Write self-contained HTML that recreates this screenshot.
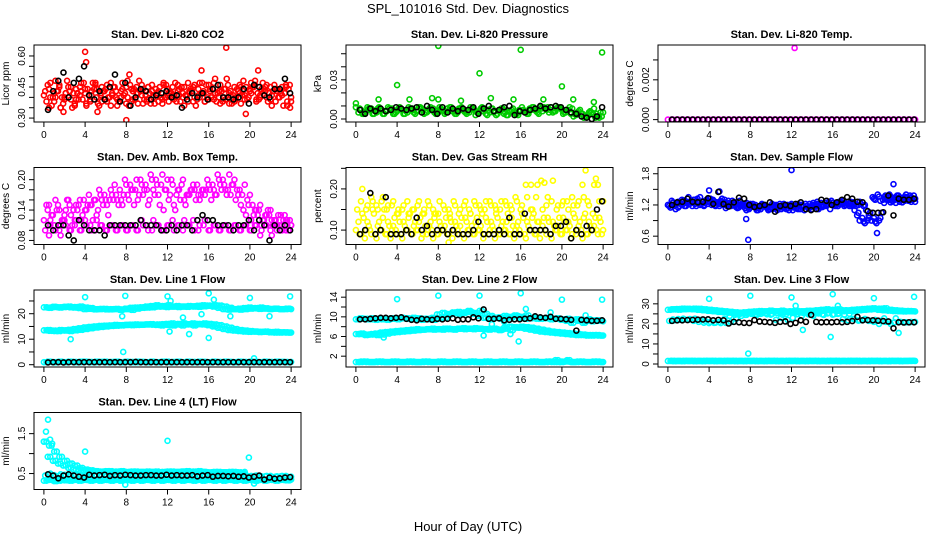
<!DOCTYPE html>
<html><head><meta charset="utf-8">
<style>
html,body{margin:0;padding:0;background:#fff;}
svg{display:block;font-family:"Liberation Sans",Arial,sans-serif;}
</style></head>
<body>
<svg id="chart" width="936" height="540" viewBox="0 0 936 540">
<text x="468" y="13" text-anchor="middle" font-size="13">SPL_101016  Std. Dev. Diagnostics</text>
<text x="468" y="531" text-anchor="middle" font-size="13">Hour of Day (UTC)</text>
</svg>
<script>
// ===== Data =====
const hourTicks = [0,4,8,12,16,20,24];
// Panel 1: CO2
const co2RedA = [0.41,0.44,0.38,0.46,0.40,0.43,0.37,0.45,0.42,0.39,0.47,0.41,0.44,0.36,0.43,0.40,0.45,0.38,0.42,0.46,0.39,0.43,0.41,0.37,0.44,0.40,0.46,0.42,0.38,0.45,0.41,0.43,0.39,0.47,0.40,0.44,0.42,0.38,0.46,0.41,0.43,0.48,0.40,0.45,0.39,0.44,0.42,0.46,0.40];
const co2RedB = [0.38,0.36,0.43,0.40,0.48,0.35,0.42,0.39,0.44,0.47,0.37,0.43,0.40,0.45,0.38,0.41,0.36,0.44,0.48,0.39,0.42,0.37,0.45,0.40,0.43,0.47,0.38,0.41,0.44,0.36,0.42,0.46,0.40,0.38,0.43,0.49,0.37,0.44,0.41,0.39,0.45,0.42,0.47,0.38,0.43,0.40,0.36,0.44,0.41];
const co2RedC = [0.43,0.47,0.40,0.35,0.42,0.45,0.39,0.43,0.36,0.41,0.44,0.38,0.46,0.42,0.39,0.47,0.40,0.43,0.37,0.44,0.45,0.41,0.38,0.46,0.42,0.39,0.41,0.45,0.43,0.40,0.47,0.38,0.44,0.42,0.46,0.39,0.43,0.40,0.37,0.45,0.42,0.39,0.44,0.46,0.41,0.43,0.45,0.38,0.42];
const co2RedOutHours = [4.0,4.1,17.7,8.0,19.6,8.3,5.2,15.3,1.9,23.9,20.8];
const co2RedOutVals = [0.62,0.57,0.64,0.29,0.32,0.51,0.33,0.53,0.33,0.35,0.53];
const co2Black = [0.34,0.43,0.48,0.52,0.40,0.47,0.49,0.55,0.41,0.39,0.43,0.39,0.45,0.51,0.38,0.47,0.36,0.40,0.44,0.43,0.39,0.41,0.42,0.43,0.40,0.41,0.35,0.39,0.42,0.40,0.42,0.39,0.44,0.46,0.40,0.40,0.39,0.40,0.44,0.37,0.46,0.45,0.41,0.40,0.44,0.44,0.49,0.42];
// Panel 2: Pressure
const presA = [0.009,0.007,0.006,0.008,0.005,0.007,0.006,0.008,0.006,0.007,0.005,0.008,0.006,0.007,0.006,0.008,0.005,0.007,0.006,0.007,0.008,0.006,0.005,0.007,0.006,0.008,0.005,0.006,0.007,0.005,0.006,0.004,0.006,0.005,0.007,0.006,0.008,0.007,0.009,0.008,0.007,0.006,0.008,0.005,0.004,0.003,0.004,0.002,0.005];
const presB = [0.005,0.004,0.008,0.004,0.009,0.004,0.008,0.004,0.009,0.004,0.008,0.004,0.009,0.005,0.009,0.004,0.008,0.005,0.009,0.004,0.009,0.004,0.008,0.005,0.009,0.003,0.008,0.004,0.008,0.003,0.008,0.003,0.007,0.004,0.009,0.004,0.009,0.005,0.006,0.009,0.005,0.009,0.004,0.007,0.002,0.006,0.001,0.005,0.008];
const presOutHours = [8.0,16.0,23.9,12.0,4.0,20.0,0.0,2.2,5.2,7.4,8.0,10.2,13.1,15.3,18.2,21.1,23.1];
const presOutVals = [0.056,0.053,0.051,0.035,0.026,0.025,0.012,0.015,0.015,0.016,0.015,0.014,0.016,0.015,0.015,0.015,0.013];
const presBlack = [0.007,0.004,0.008,0.006,0.008,0.006,0.007,0.009,0.008,0.007,0.008,0.009,0.005,0.010,0.007,0.004,0.009,0.005,0.008,0.006,0.008,0.007,0.009,0.004,0.008,0.010,0.006,0.007,0.009,0.010,0.003,0.006,0.005,0.007,0.008,0.010,0.008,0.009,0.010,0.009,0.007,0.005,0.004,0.002,0.001,0.000,0.002,0.009];
// Panel 3: Li-820 Temp
const tempMag = [0,0,0,0,0,0,0,0,0,0,0,0,0,0,0,0,0,0,0,0,0,0,0,0,0,0,0,0,0,0,0,0,0,0,0,0,0,0,0,0,0,0,0,0,0,0,0,0,0];
const tempOutHours = [12.3];
const tempOutVals = [0.0036];
const tempBlack = [0,0,0,0,0,0,0,0,0,0,0,0,0,0,0,0,0,0,0,0,0,0,0,0,0,0,0,0,0,0,0,0,0,0,0,0,0,0,0,0,0,0,0,0,0,0,0,0];
// Panel 4: Amb box temp
const ambUpper = [0.12,0.15,0.11,0.14,0.13,0.15,0.12,0.16,0.14,0.15,0.16,0.17,0.16,0.18,0.17,0.16,0.19,0.18,0.20,0.19,0.18,0.20,0.19,0.21,0.20,0.19,0.18,0.20,0.17,0.19,0.17,0.18,0.19,0.18,0.20,0.19,0.21,0.20,0.18,0.19,0.17,0.14,0.15,0.13,0.14,0.12,0.13,0.12,0.11];
const ambMid = [0.15,0.13,0.14,0.12,0.16,0.11,0.14,0.13,0.15,0.12,0.14,0.15,0.13,0.16,0.15,0.17,0.16,0.15,0.17,0.18,0.16,0.17,0.15,0.18,0.17,0.14,0.16,0.15,0.18,0.16,0.17,0.18,0.16,0.17,0.18,0.17,0.19,0.18,0.17,0.16,0.15,0.13,0.12,0.14,0.11,0.13,0.12,0.10,0.11];
const ambLower = [0.10,0.11,0.10,0.09,0.11,0.10,0.12,0.10,0.11,0.10,0.12,0.11,0.10,0.11,0.10,0.11,0.10,0.11,0.10,0.11,0.10,0.12,0.11,0.10,0.11,0.10,0.11,0.12,0.11,0.10,0.11,0.12,0.10,0.11,0.10,0.11,0.10,0.11,0.10,0.11,0.10,0.11,0.10,0.11,0.09,0.11,0.10,0.11,0.10];
const ambBlack = [0.11,0.10,0.11,0.11,0.09,0.08,0.12,0.11,0.10,0.10,0.10,0.09,0.11,0.11,0.11,0.11,0.11,0.11,0.12,0.11,0.11,0.11,0.10,0.10,0.11,0.10,0.11,0.11,0.10,0.12,0.13,0.12,0.12,0.11,0.11,0.11,0.10,0.11,0.11,0.12,0.10,0.12,0.11,0.08,0.11,0.10,0.11,0.10];
// Panel 5: Gas stream RH
const rhLow = [0.10,0.09,0.10,0.09,0.08,0.10,0.09,0.10,0.09,0.08,0.10,0.09,0.10,0.09,0.10,0.08,0.09,0.10,0.09,0.10,0.09,0.08,0.10,0.09,0.10,0.09,0.10,0.08,0.09,0.10,0.09,0.10,0.09,0.08,0.10,0.09,0.10,0.09,0.08,0.10,0.09,0.10,0.09,0.10,0.08,0.09,0.10,0.09,0.10];
const rhMid = [0.12,0.13,0.11,0.14,0.12,0.15,0.11,0.13,0.12,0.11,0.14,0.12,0.13,0.11,0.12,0.14,0.11,0.13,0.12,0.11,0.13,0.12,0.11,0.13,0.14,0.12,0.11,0.13,0.12,0.14,0.11,0.12,0.13,0.11,0.14,0.12,0.13,0.12,0.11,0.13,0.12,0.11,0.13,0.12,0.14,0.11,0.13,0.12,0.11];
const rhHigh = [0.15,0.20,0.16,0.17,0.15,0.18,0.16,0.17,0.15,0.16,0.14,0.15,0.17,0.15,0.16,0.14,0.17,0.15,0.14,0.16,0.15,0.17,0.14,0.16,0.15,0.17,0.16,0.15,0.17,0.16,0.15,0.17,0.16,0.18,0.15,0.21,0.15,0.18,0.22,0.16,0.17,0.15,0.16,0.17,0.18,0.16,0.21,0.17,0.14];
const rhOutHours = [22.3,23.3,17.0,18.3,9.0];
const rhOutVals = [0.245,0.225,0.21,0.215,0.07];
const rhBlack = [0.09,0.10,0.19,0.09,0.10,0.18,0.09,0.09,0.09,0.10,0.09,0.13,0.10,0.11,0.09,0.10,0.10,0.09,0.10,0.09,0.09,0.09,0.10,0.12,0.09,0.09,0.09,0.10,0.09,0.13,0.09,0.09,0.14,0.10,0.10,0.10,0.10,0.09,0.11,0.11,0.12,0.08,0.10,0.09,0.11,0.10,0.15,0.17];
// Panel 6: Sample flow
const sfA = [1.20,1.25,1.15,1.28,1.22,1.30,1.25,1.18,1.32,1.27,1.22,1.30,1.24,1.20,1.28,1.22,1.15,1.20,1.12,1.18,1.15,1.20,1.12,1.18,1.22,1.15,1.20,1.18,1.12,1.22,1.16,1.20,1.24,1.18,1.28,1.22,1.25,1.20,1.18,1.00,0.95,0.90,1.35,1.40,1.30,1.35,1.28,1.38,1.32];
const sfB = [1.15,1.12,1.22,1.18,1.25,1.18,1.22,1.30,1.20,1.25,1.32,1.18,1.28,1.14,1.22,1.16,1.22,1.10,1.18,1.10,1.20,1.14,1.22,1.10,1.15,1.20,1.10,1.22,1.18,1.15,1.24,1.12,1.18,1.25,1.20,1.26,1.18,1.22,1.10,0.90,0.85,1.05,1.30,1.28,1.38,1.25,1.35,1.30,1.40];
const sfC = [1.18,1.20,1.18,1.24,1.26,1.22,1.35,1.24,1.26,1.20,1.26,1.24,1.18,1.25,1.18,1.24,1.18,1.14,1.22,1.16,1.12,1.18,1.16,1.14,1.18,1.12,1.16,1.14,1.20,1.18,1.20,1.26,1.20,1.22,1.24,1.18,1.22,1.26,1.20,1.05,0.88,0.95,1.32,1.36,1.24,1.30,1.34,1.26,1.36];
const sfOutHours = [12.0,21.9,7.8,7.6,20.3,4.0,5.0];
const sfOutVals = [1.87,1.60,0.53,0.93,0.66,1.48,1.46];
const sfBlack = [1.20,1.25,1.26,1.32,1.26,1.25,1.26,1.33,1.22,1.45,1.22,1.17,1.25,1.34,1.32,1.20,1.16,1.18,1.20,1.25,1.07,1.18,1.20,1.18,1.22,1.25,1.12,1.10,1.12,1.30,1.28,1.20,1.25,1.30,1.35,1.32,1.26,1.25,1.08,1.05,1.05,1.06,1.38,1.00,1.32,1.30,1.30,1.32];
// Panel 7: Line 1 flow
const l1Upper = [22.5,22.3,22.6,22.4,22.7,22.5,22.6,22.8,22.4,22.2,21.8,21.9,21.7,21.8,21.9,21.7,21.8,21.5,22.0,22.3,22.4,22.5,22.8,23.0,23.3,22.8,22.6,22.8,23.0,22.8,22.7,22.9,23.1,23.3,23.2,22.8,22.3,21.8,21.6,21.8,22.0,22.2,22.4,22.1,21.9,22.0,21.8,22.0,21.8];
const l1Mid = [13.5,13.3,13.2,13.6,13.4,13.2,13.5,13.7,14.0,14.3,14.6,14.8,15.0,15.2,15.3,15.4,15.6,15.5,15.6,15.7,15.8,15.7,15.8,15.9,15.6,15.4,16.0,16.2,15.8,15.4,15.9,16.2,16.0,15.8,15.5,15.0,14.5,14.0,13.6,13.4,13.2,13.0,12.9,13.0,12.8,12.9,12.7,12.6,12.6];
const l1Low = [1.0,1.1,1.0,1.2,1.0,1.1,1.0,1.2,1.1,1.0,1.2,1.1,1.0,1.1,1.2,1.0,1.1,1.0,1.2,1.1,1.0,1.1,1.0,1.2,1.0,1.1,1.2,1.0,1.1,1.0,1.2,1.1,1.0,1.1,1.0,1.2,1.1,1.0,1.1,1.0,1.2,1.1,1.0,1.1,1.0,1.2,1.1,1.0,1.1];
const l1OutHours = [4.0,7.9,12.0,16.0,20.0,23.9,2.6,7.7,7.6,16.0,16.5,13.5,14.1,12.3,18.1,21.9,20.4,12.2,15.3];
const l1OutVals = [26.5,27.0,26.8,28.0,26.2,26.8,10.0,5.0,19.0,10.5,25.5,18.5,12.0,25.0,19.0,19.0,2.5,13.0,19.8];
const l1Black = [0.9,1.0,1.0,0.9,1.0,1.0,1.0,1.0,1.0,1.0,1.0,1.0,1.0,1.0,1.0,1.0,1.0,1.1,1.0,1.0,1.0,1.0,1.0,1.0,1.0,1.0,1.0,1.0,1.0,1.0,1.0,1.0,1.0,1.0,1.0,1.0,1.0,1.0,1.0,1.0,1.0,1.0,1.0,1.0,1.0,1.0,1.0,1.0];
// Panel 8: Line 2 flow
const l2Upper = [9.5,9.6,9.5,9.7,9.6,9.5,9.4,9.6,9.5,9.7,9.6,9.8,9.7,9.6,9.5,9.4,9.6,9.8,10.5,10.8,10.6,10.9,11.0,10.8,11.2,10.6,10.2,9.8,9.6,9.8,9.9,10.2,10.0,10.3,9.8,9.6,9.7,9.8,9.6,9.7,9.5,9.6,9.4,9.2,8.8,9.5,9.3,9.2,9.1];
const l2Mid = [6.5,6.6,6.4,6.5,6.3,6.4,6.6,6.8,6.9,7.0,7.1,7.2,7.3,7.4,7.5,7.4,7.5,7.6,7.5,7.4,7.6,7.5,7.6,7.7,7.6,7.5,7.6,7.5,7.4,7.6,7.3,7.8,8.0,7.9,7.8,7.6,7.4,7.2,7.0,6.9,6.8,6.7,6.6,6.5,6.4,6.3,6.3,6.2,6.2];
const l2Low = [0.8,0.9,0.8,0.8,0.9,0.8,0.8,0.9,0.8,0.8,0.9,0.8,0.8,0.9,0.8,0.8,0.9,0.8,0.8,0.9,0.8,0.8,0.9,0.8,0.8,0.9,0.8,0.8,0.9,0.8,0.8,0.9,0.8,0.8,0.9,0.8,0.8,0.9,0.8,0.8,0.9,1.2,0.8,0.9,0.8,0.8,0.9,0.8,0.8];
const l2OutHours = [4.0,8.0,12.0,16.0,20.0,23.9,2.7,12.4,15.8,16.5,13.2,14.4,15.0,18.9,22.3];
const l2OutVals = [13.6,14.3,14.3,14.8,13.5,13.5,5.8,6.2,5.0,11.6,8.5,9.0,6.5,10.9,10.3];
const l2Black = [9.5,9.5,9.6,9.7,9.8,9.8,9.7,9.8,9.9,9.6,9.4,9.3,9.6,9.5,9.4,9.6,9.5,9.6,9.7,9.4,9.5,9.5,9.9,9.7,11.5,9.6,9.6,9.7,9.3,9.4,9.5,9.5,9.6,9.7,10.1,9.9,9.8,10.0,9.6,9.6,9.5,9.4,7.2,9.4,9.3,9.2,9.2,9.3];
// Panel 9: Line 3 flow
const l3Upper = [27.0,27.2,27.1,27.3,27.4,27.6,27.5,27.3,27.0,26.8,26.5,26.3,26.0,25.8,25.6,25.4,25.5,25.8,26.0,26.2,26.4,26.3,26.6,26.2,25.8,26.0,26.3,26.5,26.2,25.8,26.5,26.8,27.0,27.3,26.8,26.5,26.3,26.8,27.0,27.2,27.4,27.6,27.8,27.0,26.8,26.6,26.4,26.3,26.2];
const l3Mid = [21.5,21.8,22.0,22.2,22.4,22.6,22.0,21.5,21.0,20.6,20.4,20.5,21.0,22.5,24.0,24.5,25.0,24.5,25.2,24.8,25.0,25.3,24.6,22.0,23.0,25.0,25.5,24.8,24.0,25.2,24.5,25.5,24.8,25.2,24.6,25.0,22.4,21.8,22.5,21.6,22.0,21.5,21.0,20.0,22.8,21.0,20.8,21.0,20.8];
const l3Low = [1.5,1.4,1.5,1.6,1.5,1.4,1.5,1.6,1.5,1.4,1.5,1.6,1.5,1.4,1.5,1.6,1.5,1.4,1.5,1.6,1.5,1.4,1.5,1.6,1.5,1.4,1.5,1.6,1.5,1.4,1.5,1.6,1.5,1.4,1.5,1.6,1.5,1.4,1.5,1.6,1.5,1.4,1.5,1.6,1.5,1.4,1.5,1.6,1.5];
const l3OutHours = [4.0,8.0,12.0,16.0,20.0,23.9,7.8,13.1,15.8,22.4,12.4,16.5];
const l3OutVals = [32.5,34.0,33.2,34.8,32.8,33.5,5.2,17.0,13.5,15.5,29.0,29.0];
const l3Black = [21.5,21.8,21.8,21.9,22.0,22.1,22.2,22.3,21.8,22.0,21.8,20.2,21.0,20.8,20.5,20.4,21.9,21.2,21.0,20.8,20.5,21.0,21.2,20.0,20.5,21.8,21.0,24.5,21.0,20.8,20.9,20.8,21.0,20.8,21.0,21.4,23.5,21.8,21.9,21.8,21.6,21.4,21.2,17.8,20.8,20.7,20.8,20.8];
// Panel 10: Line 4 (LT) flow (upper band ends near 19.5 h)
const l4Upper = [1.30,1.20,1.05,0.92,0.82,0.75,0.70,0.64,0.60,0.58,0.56,0.55,0.56,0.54,0.55,0.56,0.54,0.55,0.53,0.54,0.55,0.54,0.53,0.54,0.55,0.53,0.54,0.55,0.54,0.55,0.56,0.54,0.53,0.54,0.52,0.53,0.54,0.53,0.52,0.54];
const l4Mid = [0.45,0.50,0.44,0.48,0.46,0.44,0.47,0.45,0.44,0.47,0.45,0.46,0.44,0.47,0.45,0.46,0.44,0.48,0.45,0.46,0.44,0.47,0.45,0.46,0.44,0.47,0.45,0.46,0.44,0.47,0.45,0.46,0.44,0.47,0.45,0.46,0.44,0.47,0.45,0.46,0.44,0.45,0.43,0.44,0.42,0.43,0.44,0.42,0.43];
const l4Low = [0.32,0.34,0.31,0.35,0.33,0.32,0.34,0.33,0.35,0.32,0.34,0.33,0.35,0.32,0.34,0.33,0.35,0.32,0.34,0.33,0.35,0.32,0.34,0.33,0.35,0.32,0.34,0.33,0.35,0.32,0.34,0.33,0.35,0.32,0.34,0.33,0.35,0.32,0.34,0.33,0.35,0.32,0.34,0.33,0.35,0.32,0.34,0.33,0.35];
const l4OutHours = [0.4,0.2,0.6,0.0,0.8,4.0,12.0,19.9,7.9,20.4];
const l4OutVals = [1.85,1.55,1.35,1.30,1.25,1.05,1.32,0.90,0.22,0.25];
const l4Black = [0.48,0.45,0.38,0.45,0.48,0.45,0.42,0.40,0.47,0.45,0.46,0.47,0.44,0.46,0.45,0.47,0.46,0.45,0.45,0.46,0.46,0.45,0.45,0.47,0.45,0.46,0.45,0.45,0.46,0.43,0.45,0.46,0.42,0.44,0.44,0.43,0.44,0.42,0.43,0.40,0.42,0.45,0.35,0.40,0.37,0.38,0.40,0.41];

// ===== Rendering =====
const NS = 'http://www.w3.org/2000/svg';
const svg = document.getElementById('chart');
const CYAN = '#00ffff';
function mk(tag, attrs, parent){
  const e = document.createElementNS(NS, tag);
  for (const k in attrs) e.setAttribute(k, attrs[k]);
  (parent||svg).appendChild(e);
  return e;
}
const panels = [
  {title:'Stan. Dev. Li-820 CO2', ylab:'Licor ppm', col:0,row:0, ymin:0.281, ymax:0.653, ticks:[0.30,0.35,0.40,0.45,0.50,0.55,0.60], labels:['0.30','','','0.45','','','0.60'],
   series:[[co2RedA,'red',0],[co2RedB,'red',0.25],[co2RedC,'red',0.125]], outH:co2RedOutHours, outV:co2RedOutVals, ocol:'red', black:co2Black},
  {title:'Stan. Dev. Li-820 Pressure', ylab:'kPa', col:1,row:0, ymin:-0.0023, ymax:0.0567, ticks:[0,0.01,0.02,0.03,0.04,0.05], labels:['0.00','','','0.03','',''],
   series:[[presA,'#00cc00',0],[presB,'#00cc00',0.25]], outH:presOutHours, outV:presOutVals, ocol:'#00cc00', black:presBlack},
  {title:'Stan. Dev. Li-820 Temp.', ylab:'degrees C', col:2,row:0, ymin:-0.00012, ymax:0.00375, ticks:[0,0.001,0.002,0.003], labels:['0.000','','0.002',''],
   series:[[tempMag,'#ff00ff',0]], outH:tempOutHours, outV:tempOutVals, ocol:'#ff00ff', black:tempBlack},
  {title:'Stan. Dev. Amb. Box Temp.', ylab:'degrees C', col:0,row:1, ymin:0.072, ymax:0.224, ticks:[0.08,0.10,0.12,0.14,0.16,0.18,0.20], labels:['0.08','','','0.14','','','0.20'],
   series:[[ambUpper,'#ff00ff',0],[ambMid,'#ff00ff',0.25],[ambLower,'#ff00ff',0.125]], outH:[], outV:[], ocol:'#ff00ff', black:ambBlack},
  {title:'Stan. Dev. Gas Stream RH', ylab:'percent', col:1,row:1, ymin:0.065, ymax:0.252, ticks:[0.10,0.15,0.20,0.25], labels:['0.10','','0.20',''],
   series:[[rhLow,'#ffff00',0],[rhMid,'#ffff00',0.25],[rhHigh,'#ffff00',0.125]], outH:rhOutHours, outV:rhOutVals, ocol:'#ffff00', black:rhBlack},
  {title:'Stan. Dev. Sample Flow', ylab:'ml/min', col:2,row:1, ymin:0.44, ymax:1.92, ticks:[0.6,0.9,1.2,1.5,1.8], labels:['0.6','','1.2','','1.8'],
   series:[[sfA,'#0000ff',0],[sfB,'#0000ff',0.25],[sfC,'#0000ff',0.125]], outH:sfOutHours, outV:sfOutVals, ocol:'#0000ff', black:sfBlack},
  {title:'Stan. Dev. Line 1 Flow', ylab:'ml/min', col:0,row:2, ymin:-0.9, ymax:29.3, ticks:[0,5,10,15,20,25], labels:['0','','10','','20',''],
   series:[[l1Upper,CYAN,0],[l1Upper,CYAN,0.25],[l1Mid,CYAN,0],[l1Mid,CYAN,0.25],[l1Low,CYAN,0],[l1Low,CYAN,0.25]], outH:l1OutHours, outV:l1OutVals, ocol:CYAN, black:l1Black},
  {title:'Stan. Dev. Line 2 Flow', ylab:'ml/min', col:1,row:2, ymin:-0.2, ymax:15.46, ticks:[2,4,6,8,10,12,14], labels:['2','','6','','10','','14'],
   series:[[l2Upper,CYAN,0],[l2Upper,CYAN,0.25],[l2Mid,CYAN,0],[l2Mid,CYAN,0.25],[l2Low,CYAN,0],[l2Low,CYAN,0.25]], outH:l2OutHours, outV:l2OutVals, ocol:CYAN, black:l2Black},
  {title:'Stan. Dev. Line 3 Flow', ylab:'ml/min', col:2,row:2, ymin:-1.5, ymax:36.9, ticks:[0,5,10,15,20,25,30], labels:['0','','10','','20','','30'],
   series:[[l3Upper,CYAN,0],[l3Upper,CYAN,0.25],[l3Mid,CYAN,0.125],[l3Low,CYAN,0],[l3Low,CYAN,0.25]], outH:l3OutHours, outV:l3OutVals, ocol:CYAN, black:l3Black},
  {title:'Stan. Dev. Line 4 (LT) Flow', ylab:'ml/min', col:0,row:3, ymin:0.1, ymax:2.03, ticks:[0.5,1.0,1.5], labels:['0.5','','1.5'],
   series:[[l4Upper,CYAN,0],[l4Upper,CYAN,0.25],[l4Mid,CYAN,0.125],[l4Low,CYAN,0],[l4Low,CYAN,0.25]], outH:l4OutHours, outV:l4OutVals, ocol:CYAN, black:l4Black}
];
// each sampled series is drawn twice (second pass phase-shifted, using a neighbouring sample) to reproduce the dense clouds
const phases = [0, 0.37];
const slug = s => s.toLowerCase().replace(/[^a-z0-9]+/g,'-').replace(/^-|-$/g,'');
panels.forEach(p => {
  const L = 34 + p.col*312, T = 45 + p.row*122.5, W = 267, H = 77;
  const xs = h => L + 9.9 + h*(W/1.08)/24;
  const ys = v => T + H - (v - p.ymin)/(p.ymax - p.ymin)*H;
  const name = slug(p.title.replace('Stan. Dev. ',''));
  const g = mk('g', {});
  
  
  const t = mk('text', {x: L + W/2, y: T - 7, 'text-anchor':'middle', 'font-size':11, 'font-weight':'bold'}, g);
  t.textContent = p.title;
  
  
  const yl = mk('text', {x: L - 25, y: T + H/2, 'text-anchor':'middle', 'font-size':10, transform:`rotate(-90 ${L-25} ${T+H/2})`}, g);
  yl.textContent = p.ylab;
  
  
  const clip = 'clip-' + name;
  const cp = mk('clipPath', {id: clip}, g);
  mk('rect', {x: L, y: T, width: W, height: H}, cp);
  const pts = mk('g', {'clip-path': `url(#${clip})`, fill:'none', 'stroke-width':1.6}, g);
  
  
  p.series.forEach(s => {
    const vals = s[0];
    const n = vals.length;
    const st = n >= 48 ? 24/(n-1) : 19.5/(n-1);
    phases.forEach((ph, k) => {
      vals.forEach((v,i) => {
        const h = i*st + s[2] + ph;
        if (h > 24.05 || (n < 48 && h > 19.6)) return;
        const val = (k === 0 || i + 3 >= n) ? v : vals[i + 3];
        const c = mk('circle', {cx: xs(h), cy: ys(val), r: 2.5, stroke: s[1]}, pts);
        
        
      });
    });
  });
  p.outH.forEach((h,i) => {
    const c = mk('circle', {cx: xs(h), cy: ys(p.outV[i]), r: 2.5, stroke: p.ocol}, pts);
    
    
  });
  p.black.forEach((v,i) => {
    const h = 0.5 + i*0.5 - 0.1;
    const c = mk('circle', {cx: xs(h), cy: ys(v), r: 2.5, stroke: '#000'}, pts);
    
    
  });
  const box = mk('rect', {x: L, y: T, width: W, height: H, fill:'none', stroke:'#000', 'stroke-width':1}, g);
  
  
  hourTicks.forEach(h => {
    mk('line', {x1: xs(h), x2: xs(h), y1: T+H, y2: T+H+5, stroke:'#000'}, g);
    const tx = mk('text', {x: xs(h), y: T+H+16, 'text-anchor':'middle', 'font-size':10}, g);
    tx.textContent = h;
    
    
  });
  p.ticks.forEach((v,i) => {
    mk('line', {x1: L-5, x2: L, y1: ys(v), y2: ys(v), stroke:'#000'}, g);
    if (p.labels[i]) {
      const tx = mk('text', {x: L-9, y: ys(v), 'text-anchor':'middle', 'font-size':10, transform:`rotate(-90 ${L-9} ${ys(v)})`}, g);
      tx.textContent = p.labels[i];
      
      
    }
  });
});
</script>
</body></html>
